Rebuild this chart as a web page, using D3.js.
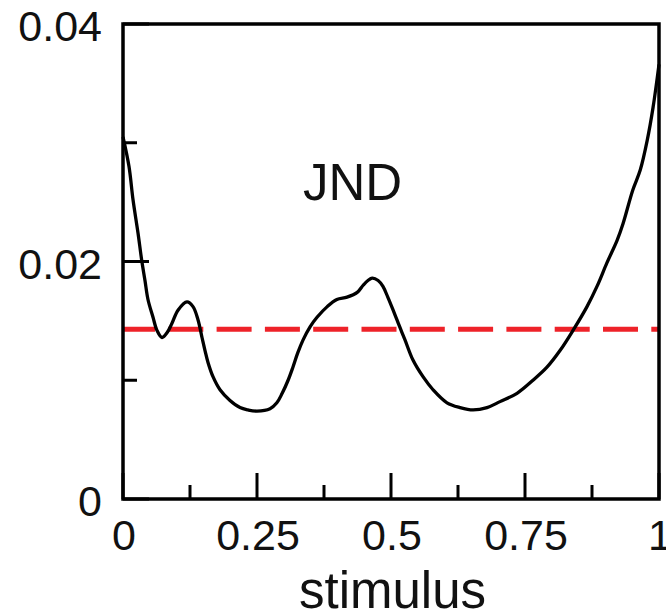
<!DOCTYPE html>
<html>
<head>
<meta charset="utf-8">
<script src="https://cdn.jsdelivr.net/npm/d3@7/dist/d3.min.js"></script>
<style>
  html, body { margin: 0; padding: 0; background: #fff; }
  svg { display: block; }
  text { font-family: "Liberation Sans", Arial, Helvetica, sans-serif; fill: #111; }
</style>
</head>
<body>
<script>
// ---- data ----
const stimulus = [0, 0.0112, 0.0187, 0.028, 0.0349, 0.041, 0.0466, 0.056, 0.0634, 0.0728,
  0.0821, 0.0914, 0.1026, 0.1194, 0.1306, 0.1399, 0.1474, 0.153, 0.1586, 0.1679,
  0.181, 0.1996, 0.2183, 0.2332, 0.250, 0.2743, 0.287, 0.297, 0.308, 0.317,
  0.326, 0.336, 0.349, 0.362, 0.381, 0.399, 0.418, 0.437, 0.448, 0.457,
  0.465, 0.476, 0.485, 0.494, 0.504, 0.511, 0.518, 0.5261, 0.541, 0.5597,
  0.5784, 0.6045, 0.6287, 0.653, 0.6791, 0.7034, 0.7351, 0.7649, 0.791, 0.8153,
  0.8396, 0.8657, 0.8843, 0.903, 0.922, 0.933, 0.951, 0.965, 0.978, 0.989, 1.0];
const jnd = [0.0305, 0.0280, 0.0252, 0.0224, 0.0201, 0.0184, 0.0168, 0.0153, 0.0142, 0.0136,
  0.0140, 0.0148, 0.0159, 0.0166, 0.0162, 0.0151, 0.0136, 0.0125, 0.0115, 0.0103,
  0.0092, 0.0083, 0.0077, 0.0075, 0.0074, 0.0076, 0.0081, 0.0089, 0.0100, 0.0111,
  0.0123, 0.0134, 0.0145, 0.0153, 0.0162, 0.0168, 0.0170, 0.0174, 0.0180, 0.0184,
  0.0186, 0.0184, 0.0179, 0.0170, 0.0159, 0.0151, 0.0143, 0.0134, 0.0117, 0.0103,
  0.0092, 0.0081, 0.0077, 0.0075, 0.0077, 0.0082, 0.0089, 0.0100, 0.0111, 0.0125,
  0.0142, 0.0162, 0.0179, 0.0199, 0.0218, 0.0232, 0.0260, 0.0277, 0.0302, 0.0330, 0.0366];
const threshold = 0.0143;
const xTickMajor = [0, 0.25, 0.5, 0.75, 1];
const xTickLabels = ["0", "0.25", "0.5", "0.75", "1"];
const xTickMinor = [0.125, 0.375, 0.625, 0.875];
const yTickMajor = [0, 0.02, 0.04];
const yTickLabels = ["0", "0.02", "0.04"];
const yTickMinor = [0.01, 0.03];
const titleText = "JND";
const xLabelText = "stimulus";

// ---- layout ----
const W = 666, H = 611;
const mLeft = 123, mRight = 659, mTop = 24, mBottom = 499;

const svg = d3.select("body").append("svg").attr("width", W).attr("height", H);

const x = d3.scaleLinear().domain([0, 1]).range([mLeft, mRight]);
const y = d3.scaleLinear().domain([0, 0.04]).range([mBottom, mTop]);

// threshold dashed line
svg.append("line")
  .attr("x1", x(0)).attr("x2", x(1))
  .attr("y1", y(threshold)).attr("y2", y(threshold))
  .attr("stroke", "#ee2229").attr("stroke-width", 5)
  .attr("stroke-dasharray", "35,13.3").attr("stroke-dashoffset", 3);

// curve
const pts = stimulus.map((s, i) => [s, jnd[i]]);
svg.append("path")
  .datum(pts)
  .attr("fill", "none").attr("stroke", "#000").attr("stroke-width", 3.3)
  .attr("stroke-linejoin", "round")
  .attr("d", d3.line().x(d => x(d[0])).y(d => y(d[1])).curve(d3.curveCatmullRom.alpha(0.5)));

// frame
svg.append("rect")
  .attr("x", mLeft).attr("y", mTop).attr("width", mRight - mLeft).attr("height", mBottom - mTop)
  .attr("fill", "none").attr("stroke", "#000").attr("stroke-width", 3.5);

// ticks (inward)
const tickG = svg.append("g").attr("stroke", "#000").attr("stroke-width", 3);
xTickMajor.forEach(v => tickG.append("line").attr("x1", x(v)).attr("x2", x(v)).attr("y1", mBottom).attr("y2", mBottom - 26));
xTickMinor.forEach(v => tickG.append("line").attr("x1", x(v)).attr("x2", x(v)).attr("y1", mBottom).attr("y2", mBottom - 14));
yTickMajor.forEach(v => tickG.append("line").attr("y1", y(v)).attr("y2", y(v)).attr("x1", mLeft).attr("x2", mLeft + 26));
yTickMinor.forEach(v => tickG.append("line").attr("y1", y(v)).attr("y2", y(v)).attr("x1", mLeft).attr("x2", mLeft + 14));

// tick labels
xTickMajor.forEach((v, i) => svg.append("text")
  .attr("x", x(v) + 1).attr("y", 550)
  .attr("text-anchor", "middle").attr("font-size", 43)
  .text(xTickLabels[i]));
yTickMajor.forEach((v, i) => svg.append("text")
  .attr("x", 102).attr("y", y(v) + 17)
  .attr("text-anchor", "end").attr("font-size", 43)
  .text(yTickLabels[i]));

// title & axis label
svg.append("text").attr("x", 352.5).attr("y", 200)
  .attr("text-anchor", "middle").attr("font-size", 51).text(titleText);
svg.append("text").attr("x", 392.5).attr("y", 608)
  .attr("text-anchor", "middle").attr("font-size", 51).text(xLabelText);
</script>
</body>
</html>
